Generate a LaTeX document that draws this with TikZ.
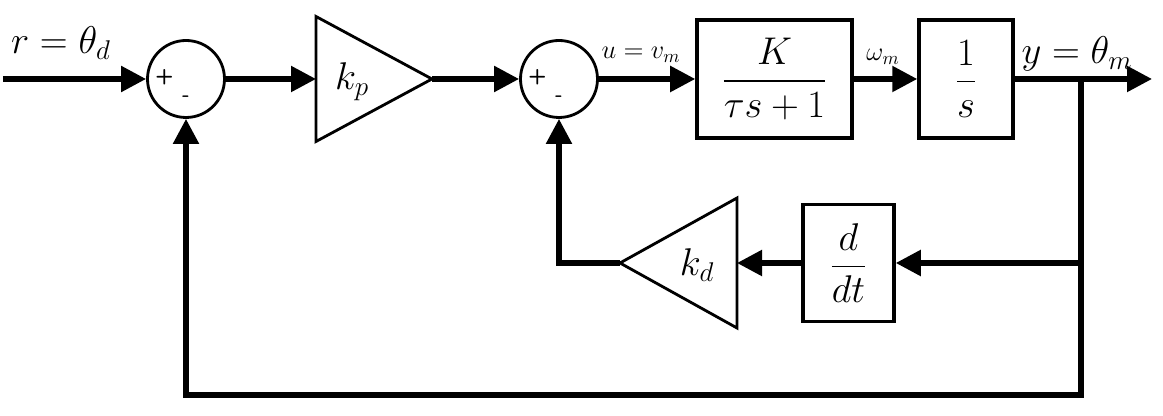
\RequirePackage{fix-cm}
\documentclass[tikz,border=0pt]{standalone}
\usepackage{amsmath}
\usetikzlibrary{arrows.meta}

\begin{document}
\begin{tikzpicture}[
  sig/.style={line width=3pt, -{Triangle[length=0.5cm,width=0.5cm]}},
  wire/.style={line width=3pt},
  blk/.style={draw, line width=2pt, minimum height=2.36cm, inner sep=0pt},
  sumnode/.style={draw, circle, line width=1.6pt, minimum size=1.54cm, inner sep=0pt},
  gain/.style={draw, line width=1.6pt, line join=miter},
  big/.style={font=\fontsize{22}{26}\selectfont},
  small/.style={font=\fontsize{15}{18}\selectfont},
  sign/.style={font=\sffamily\bfseries\fontsize{12}{14}\selectfont, inner sep=0pt}
]
\useasboundingbox (0,0) rectangle (23.26,8.32);
% Punkte
\coordinate (in) at (0.06,6.74);
\coordinate (out) at (23.04,6.74);
\coordinate (br) at (21.62,6.74);
\coordinate (brd) at (21.62,3.06);
\coordinate (brbot) at (21.62,0.42);
\coordinate (kpBack) at (6.32,6.74);
\coordinate (kpTop) at (6.32,7.99);
\coordinate (kpBot) at (6.32,5.49);
\coordinate (kpApex) at (8.64,6.74);
\coordinate (kdBack) at (14.74,3.06);
\coordinate (kdTop) at (14.74,4.36);
\coordinate (kdBot) at (14.74,1.76);
\coordinate (kdApex) at (12.40,3.06);
% Bloecke
\node[sumnode] (sum1) at (3.72,6.74) {};
\node[sumnode] (sum2) at (11.18,6.74) {};
\node[sign] (sum1p) at ([xshift=-0.43cm,yshift=0.04cm]sum1.center) {+};
\node[sign] (sum1m) at ([yshift=-0.40cm]sum1.center) {-};
\node[sign] (sum2p) at ([xshift=-0.43cm,yshift=0.04cm]sum2.center) {+};
\node[sign] (sum2m) at ([yshift=-0.40cm]sum2.center) {-};
\node[blk, big, minimum width=3.1cm] (motor) at (15.49,6.74) {$\dfrac{K}{\tau s+1}$};
\node[blk, big, minimum width=1.88cm] (integ) at (19.32,6.74) {$\dfrac{1}{s}$};
\node[blk, big, minimum width=1.82cm, minimum height=2.34cm] (ddt) at (16.97,3.06) {$\dfrac{d}{dt}$};
% Verstaerker
\draw[gain] (kpBack) -- (kpTop) -- (kpApex) -- (kpBot) -- cycle;
\draw[gain] (kdBack) -- (kdTop) -- (kdApex) -- (kdBot) -- cycle;
\node[big] (kp) at (7.04,6.68) {$k_p$};
\node[big] (kd) at (13.94,3.02) {$k_d$};
% Labels
\node[big] (rlab) at (1.22,7.46) {$r=\theta_d$};
\node[small] (ulab) at (12.82,7.22) {$u=v_m$};
\node[small] (wlab) at (17.66,7.18) {$\omega_m$};
\node[big] (ylab) at (21.54,7.24) {$y=\theta_m$};
% Signale
\draw[sig] (in) -- (sum1);
\draw[sig] (sum1) -- (kpBack);
\draw[sig] (kpApex) -- (sum2);
\draw[sig] (sum2) -- (motor);
\draw[sig] (motor) -- (integ);
\draw[sig] (integ) -- (out);
\draw[sig] (br) -- (brd) -- (ddt);
\draw[sig] (ddt) -- (kdBack);
\draw[sig] (kdApex) -| (sum2);
\draw[sig] (brd) -- (brbot) -| (sum1);
\end{tikzpicture}
\end{document}
